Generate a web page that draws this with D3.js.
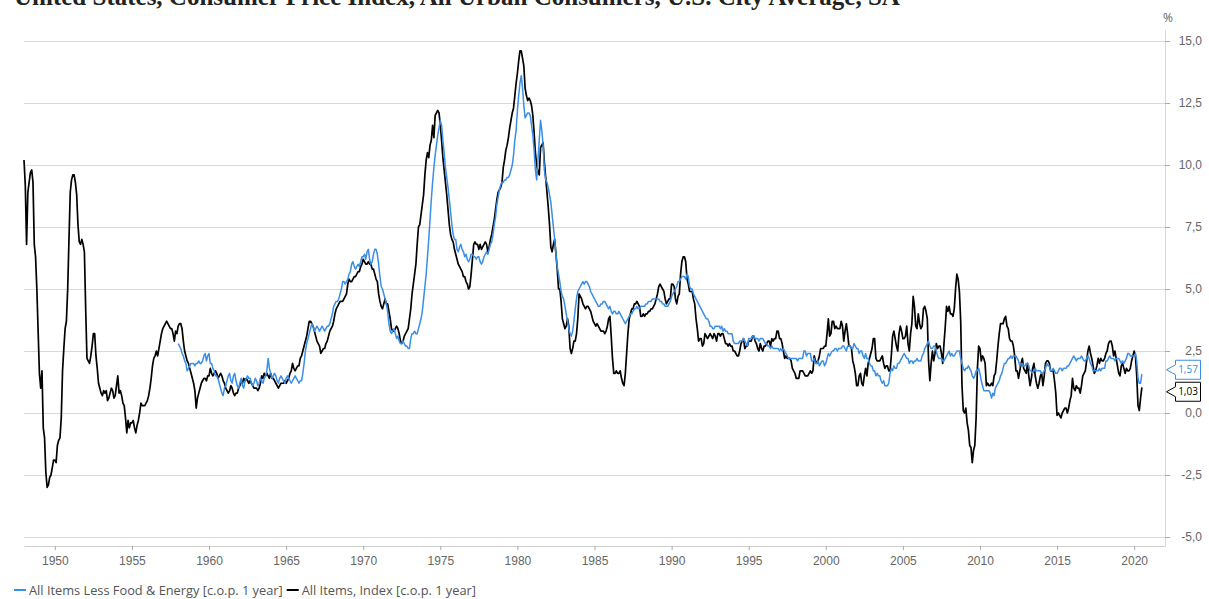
<!DOCTYPE html>
<html>
<head>
<meta charset="utf-8">
<script src="https://d3js.org/d3.v7.min.js"></script>
<style>
  body { margin: 0; background: #fff; }
  svg { display: block; font-family: "Open Sans", sans-serif; }
  .axis text { fill: #666; font-size: 12px; }
  .axis line { stroke: #aaa; }
  .axis path { stroke: #d0d0d0; }
  .grid line { stroke: #d9d9d9; stroke-width: 1; }
  .legend text { fill: #555; font-size: 12.8px; }
</style>
</head>
<body>
<svg id="chart" width="1209" height="599"></svg>
<script>
var title = "United States, Consumer Price Index, All Urban Consumers, U.S. City Average, SA";
var seriesNames = ["All Items Less Food & Energy [c.o.p. 1 year]", "All Items, Index [c.o.p. 1 year]"];
var yearTicks = [1950, 1955, 1960, 1965, 1970, 1975, 1980, 1985, 1990, 1995, 2000, 2005, 2010, 2015, 2020];
var valueTicks = [-5, -2.5, 0, 2.5, 5, 7.5, 10, 12.5, 15];

// monthly, first value = January of the start year
var allItemsStart = 1948;
var allItems = [
  10.2, 9.2, 6.8, 8.9, 9.3, 9.7, 9.8, 9.3, 6.8, 6.3, 5.0, 3.3,
  1.6, 1.0, 1.7, -0.6, -1.0, -2.4, -3.0, -2.9, -2.6, -2.5, -2.2, -1.9,
  -1.9, -2.0, -1.3, -1.1, -1.0, -0.2, 1.7, 2.6, 3.4, 3.7, 5.0, 7.0,
  8.9, 9.4, 9.6, 9.6, 9.3, 8.8, 7.6, 6.9, 6.8, 7.0, 6.8, 6.5,
  4.2, 2.2, 2.1, 2.0, 2.3, 2.7, 3.2, 3.2, 2.3, 1.8, 1.2, 1.0,
  0.8, 0.7, 0.9, 0.8, 0.9, 0.5, 0.6, 0.8, 1.0, 0.9, 0.6, 0.7,
  1.1, 1.5, 0.8, 0.9, 0.7, 0.4, 0.3, -0.2, -0.8, -0.3, -0.6, -0.4,
  -0.4, -0.3, -0.6, -0.8, -0.5, -0.3, 0.0, 0.4, 0.3, 0.3, 0.3, 0.4,
  0.5, 0.7, 1.0, 1.4, 1.9, 2.2, 2.3, 2.5, 2.3, 2.6, 2.9, 3.2,
  3.4, 3.5, 3.6, 3.7, 3.6, 3.5, 3.4, 3.4, 3.2, 2.9, 3.3, 3.2,
  3.5, 3.6, 3.6, 3.4, 2.9, 2.5, 2.3, 2.1, 2.0, 1.8, 1.6, 1.4,
  1.2, 0.9, 0.2, 0.6, 0.8, 1.0, 1.2, 1.3, 1.4, 1.4, 1.3, 1.5,
  1.5, 1.8, 1.6, 1.5, 1.6, 1.7, 1.6, 1.4, 1.5, 1.6, 1.5, 1.3,
  1.2, 1.0, 0.9, 0.8, 0.9, 1.1, 1.0, 0.8, 0.7, 0.8, 0.8, 1.0,
  1.1, 1.3, 1.2, 1.4, 1.3, 1.4, 1.3, 1.2, 1.3, 1.2, 1.1, 1.0,
  1.0, 1.0, 0.9, 1.0, 1.2, 1.5, 1.4, 1.6, 1.5, 1.6, 1.5, 1.4,
  1.6, 1.4, 1.4, 1.3, 1.2, 1.1, 1.0, 1.1, 1.2, 1.2, 1.2, 1.3,
  1.2, 1.3, 1.4, 1.6, 1.7, 2.0, 1.8, 1.7, 1.8, 1.9, 1.9, 2.2,
  2.3, 2.5, 2.7, 2.9, 3.1, 3.4, 3.7, 3.7, 3.6, 3.5, 3.3, 3.1,
  2.9, 2.8, 2.7, 2.4, 2.5, 2.6, 2.6, 2.8, 2.9, 3.1, 3.3, 3.4,
  3.5, 3.7, 4.0, 4.2, 4.3, 4.4, 4.5, 4.5, 4.5, 4.6, 4.7, 4.8,
  5.2, 5.4, 5.3, 5.3, 5.4, 5.5, 5.5, 5.6, 5.7, 5.7, 5.9, 6.0,
  6.2, 6.1, 6.0, 6.0, 6.1, 6.0, 6.0, 5.8, 5.8, 5.6, 5.4, 5.3,
  4.8, 4.5, 4.3, 4.2, 4.4, 4.6, 4.4, 4.4, 4.1, 3.8, 3.4, 3.3,
  3.3, 3.4, 3.5, 3.4, 3.2, 2.9, 2.8, 2.9, 3.1, 3.2, 3.3, 3.4,
  3.8, 4.2, 4.8, 5.2, 5.6, 6.0, 6.8, 7.5, 7.6, 8.0, 8.4, 8.8,
  9.6, 10.2, 10.5, 10.3, 10.8, 11.0, 11.6, 11.1, 12.0, 12.1, 12.2, 12.1,
  11.6, 11.0, 10.3, 9.8, 9.3, 8.8, 8.2, 7.6, 7.2, 7.0, 6.9, 6.6,
  6.4, 6.2, 6.0, 5.9, 5.8, 5.7, 5.5, 5.5, 5.3, 5.2, 5.0, 5.1,
  5.6, 6.2, 6.8, 6.9, 6.8, 6.8, 6.6, 6.8, 6.6, 6.7, 6.8, 6.9,
  6.8, 6.5, 6.7, 7.0, 7.2, 7.5, 7.8, 8.2, 8.6, 8.9, 9.0, 9.1,
  9.3, 9.9, 10.2, 10.6, 10.8, 11.1, 11.5, 11.8, 12.1, 12.3, 12.8, 13.3,
  13.7, 14.2, 14.6, 14.6, 14.3, 14.0, 13.1, 12.8, 12.6, 12.7, 12.6, 12.4,
  12.0, 11.3, 10.5, 10.0, 9.7, 9.6, 10.7, 10.8, 10.9, 10.1, 9.5, 8.9,
  8.3, 7.6, 6.7, 6.5, 6.8, 7.0, 6.4, 5.8, 5.0, 5.0, 4.5, 3.8,
  3.6, 3.4, 3.5, 3.8, 3.5, 2.6, 2.4, 2.6, 2.9, 2.9, 3.2, 3.8,
  4.8, 4.7, 4.6, 4.4, 4.3, 4.2, 4.3, 4.3, 4.2, 4.1, 3.9, 3.7,
  3.6, 3.5, 3.6, 3.5, 3.4, 3.3, 3.3, 3.3, 3.2, 3.3, 3.5, 3.8,
  3.9, 3.1, 2.2, 1.6, 1.6, 1.7, 1.6, 1.6, 1.7, 1.4, 1.2, 1.1,
  1.6, 2.4, 3.2, 3.8, 4.0, 4.2, 4.2, 4.4, 4.4, 4.5, 4.4, 4.3,
  3.9, 3.9, 4.0, 3.9, 4.0, 4.0, 4.1, 4.1, 4.2, 4.2, 4.3, 4.4,
  4.6, 4.8, 5.1, 5.2, 5.1, 5.0, 4.9, 4.6, 4.4, 4.5, 4.6, 4.6,
  5.2, 5.2, 5.1, 4.6, 4.4, 4.7, 4.8, 5.6, 6.1, 6.3, 6.3, 6.1,
  5.4, 5.2, 4.9, 4.9, 4.9, 4.6, 4.4, 3.8, 3.4, 2.9, 3.0, 3.0,
  2.7, 2.8, 3.2, 3.1, 3.0, 3.1, 3.2, 3.1, 3.0, 3.2, 3.1, 2.9,
  3.2, 3.2, 3.1, 3.2, 3.2, 3.0, 2.8, 2.8, 2.7, 2.8, 2.7, 2.7,
  2.5, 2.5, 2.4, 2.3, 2.3, 2.5, 2.8, 2.9, 3.0, 2.6, 2.7, 2.7,
  2.9, 2.9, 2.9, 3.1, 3.1, 2.9, 2.8, 2.6, 2.5, 2.8, 2.6, 2.5,
  2.7, 2.7, 2.8, 2.9, 2.9, 2.7, 3.0, 2.9, 3.0, 3.0, 3.3, 3.3,
  3.0, 3.0, 2.8, 2.5, 2.2, 2.3, 2.2, 2.2, 2.2, 2.1, 1.8, 1.7,
  1.6, 1.4, 1.4, 1.4, 1.7, 1.7, 1.7, 1.6, 1.5, 1.5, 1.5, 1.6,
  1.7, 1.6, 1.7, 2.3, 2.1, 2.0, 2.1, 2.3, 2.6, 2.6, 2.6, 2.7,
  2.7, 3.2, 3.8, 3.1, 3.2, 3.7, 3.7, 3.4, 3.5, 3.4, 3.4, 3.4,
  3.7, 3.5, 2.9, 3.3, 3.6, 3.2, 2.7, 2.7, 2.6, 2.1, 1.9, 1.6,
  1.1, 1.1, 1.5, 1.6, 1.2, 1.1, 1.5, 1.8, 1.5, 2.0, 2.2, 2.4,
  2.6, 3.0, 3.0, 2.2, 2.1, 2.1, 2.1, 2.2, 2.3, 2.0, 1.8, 1.9,
  1.9, 1.7, 1.7, 2.3, 3.1, 3.3, 3.0, 2.7, 2.5, 3.2, 3.5, 3.3,
  3.0, 3.0, 3.1, 3.5, 2.8, 2.5, 3.2, 3.6, 4.7, 4.3, 3.5, 3.4,
  4.0, 3.6, 3.4, 3.5, 4.2, 4.3, 4.1, 3.8, 2.1, 1.3, 2.0, 2.5,
  2.1, 2.4, 2.8, 2.6, 2.7, 2.7, 2.4, 2.0, 2.8, 3.5, 4.3, 4.1,
  4.3, 4.0, 4.0, 3.9, 4.2, 5.0, 5.6, 5.4, 4.9, 3.7, 1.1, 0.1,
  0.0, 0.2, -0.4, -0.7, -1.3, -1.4, -2.0, -1.5, -1.3, -0.2, 1.8, 2.7,
  2.6, 2.1, 2.3, 2.2, 2.0, 1.1, 1.2, 1.1, 1.1, 1.2, 1.1, 1.5,
  1.6, 2.1, 2.7, 3.2, 3.6, 3.6, 3.6, 3.8, 3.9, 3.5, 3.4, 3.0,
  2.9, 2.9, 2.7, 2.3, 1.7, 1.7, 1.4, 1.7, 2.0, 2.2, 1.8, 1.7,
  1.6, 2.0, 1.5, 1.1, 1.4, 1.8, 2.0, 1.5, 1.2, 1.0, 1.2, 1.5,
  1.6, 1.1, 1.5, 2.0, 2.1, 2.1, 2.0, 1.7, 1.7, 1.7, 1.3, 0.8,
  -0.1, 0.0, -0.1, -0.2, 0.0, 0.1, 0.2, 0.2, 0.0, 0.2, 0.5, 0.7,
  1.4, 1.0, 0.9, 1.1, 1.0, 1.0, 0.8, 1.1, 1.5, 1.6, 1.7, 2.1,
  2.5, 2.7, 2.4, 2.2, 1.9, 1.6, 1.7, 1.9, 2.2, 2.0, 2.2, 2.1,
  2.1, 2.2, 2.4, 2.5, 2.8, 2.9, 2.9, 2.7, 2.3, 2.5, 2.2, 1.9,
  1.6, 1.5, 1.9, 2.0, 1.8, 1.6, 1.8, 1.7, 1.7, 1.8, 2.1, 2.3,
  2.5, 2.3, 1.5, 0.3, 0.1, 0.6, 1.03
];

var coreItemsStart = 1958;
var coreItems = [
  2.8, 2.7, 2.6, 2.4, 2.3, 2.1, 2.0, 1.7, 1.8, 1.9, 2.0, 2.0,
  2.0, 1.9, 2.0, 2.0, 2.1, 2.0, 2.0, 2.1, 2.3, 2.4, 2.1, 2.3,
  2.4, 2.0, 2.0, 1.8, 1.7, 1.5, 1.5, 1.4, 1.2, 1.0, 0.8, 0.7,
  1.0, 1.1, 1.3, 1.5, 1.6, 1.3, 1.2, 1.5, 1.6, 1.3, 1.1, 1.0,
  1.2, 1.4, 1.1, 1.0, 1.3, 1.4, 1.5, 1.4, 1.4, 1.2, 1.1, 1.2,
  1.4, 1.3, 1.1, 1.2, 1.4, 1.3, 1.2, 1.4, 1.5, 1.7, 2.2, 1.8,
  1.6, 1.4, 1.5, 1.6, 1.5, 1.3, 1.2, 1.4, 1.5, 1.4, 1.3, 1.2,
  1.4, 1.5, 1.4, 1.3, 1.2, 1.3, 1.4, 1.5, 1.4, 1.3, 1.2, 1.3,
  1.3, 1.6, 2.0, 2.5, 2.8, 3.0, 3.2, 3.4, 3.6, 3.5, 3.3, 3.4,
  3.5, 3.4, 3.3, 3.4, 3.5, 3.4, 3.3, 3.4, 3.5, 3.5, 3.6, 3.8,
  4.0, 4.3, 4.4, 4.5, 4.5, 4.6, 4.8, 5.0, 5.3, 5.3, 5.2, 5.3,
  5.4, 5.6, 5.7, 6.0, 6.1, 5.9, 5.8, 5.9, 6.0, 5.9, 6.1, 6.3,
  6.3, 6.4, 6.2, 6.5, 6.6, 6.2, 6.0, 6.1, 6.4, 6.6, 6.6, 6.4,
  6.0, 5.5, 5.1, 5.0, 4.8, 4.6, 4.4, 4.1, 3.6, 3.3, 3.2, 3.3,
  3.4, 3.2, 3.0, 3.1, 2.9, 2.8, 2.8, 2.9, 2.8, 2.7, 2.7, 2.6,
  2.6, 3.0, 3.2, 3.2, 3.3, 3.2, 3.2, 3.4, 3.6, 3.8, 4.1, 4.6,
  5.1, 5.6, 6.3, 7.0, 7.8, 8.6, 9.3, 9.9, 10.4, 10.8, 11.2, 11.5,
  11.8, 11.6, 11.0, 10.5, 9.9, 9.5, 9.1, 8.6, 8.1, 7.6, 7.2, 7.0,
  7.0, 6.6, 6.5, 6.7, 6.8, 6.6, 6.5, 6.3, 6.4, 6.2, 6.1, 6.2,
  6.4, 6.4, 6.3, 6.3, 6.2, 6.3, 6.3, 6.1, 6.0, 6.1, 6.3, 6.4,
  6.5, 6.4, 6.6, 6.8, 6.9, 7.2, 7.6, 7.9, 8.4, 8.7, 9.0, 9.2,
  9.3, 9.3, 9.4, 9.4, 9.5, 9.5, 9.6, 9.8, 10.0, 10.4, 11.0, 11.4,
  12.2, 12.8, 13.3, 13.6, 13.1, 12.4, 11.9, 12.0, 12.1, 12.1, 12.0, 11.6,
  11.2, 10.6, 9.8, 9.4, 10.2, 11.0, 11.8, 11.4, 10.8, 9.8, 9.4, 9.3,
  9.1, 8.8, 8.5, 8.0, 7.5, 7.0, 6.4, 5.9, 5.6, 5.3, 4.9, 4.7,
  4.6, 4.3, 4.0, 3.7, 3.4, 3.2, 3.1, 3.3, 3.7, 4.2, 4.6, 4.9,
  5.0, 5.1, 5.2, 5.3, 5.2, 5.3, 5.3, 5.2, 5.1, 4.9, 4.8, 4.7,
  4.6, 4.5, 4.4, 4.3, 4.3, 4.4, 4.4, 4.5, 4.5, 4.4, 4.3, 4.2,
  4.3, 4.1, 4.0, 4.1, 4.1, 4.0, 4.0, 4.1, 4.0, 3.9, 3.8, 3.7,
  3.6, 3.7, 3.8, 3.9, 4.0, 4.0, 4.1, 4.2, 4.2, 4.3, 4.2, 4.2,
  4.3, 4.3, 4.3, 4.3, 4.4, 4.4, 4.5, 4.5, 4.5, 4.6, 4.6, 4.6,
  4.6, 4.6, 4.6, 4.5, 4.5, 4.4, 4.4, 4.3, 4.3, 4.3, 4.4, 4.5,
  4.7, 4.8, 4.9, 5.0, 5.1, 5.3, 5.3, 5.4, 5.5, 5.5, 5.5, 5.4,
  5.6, 5.5, 5.1, 5.0, 5.0, 4.8, 4.7, 4.6, 4.5, 4.4, 4.3, 4.2,
  4.1, 4.0, 3.9, 3.8, 3.8, 3.7, 3.5, 3.5, 3.4, 3.4, 3.5, 3.5,
  3.5, 3.5, 3.4, 3.5, 3.3, 3.4, 3.3, 3.3, 3.2, 3.2, 3.2, 3.2,
  2.9, 2.8, 2.8, 2.8, 2.8, 2.9, 2.9, 2.9, 3.0, 2.9, 2.8, 2.7,
  3.0, 3.0, 3.0, 3.1, 3.1, 3.0, 3.0, 3.0, 2.9, 3.0, 3.0, 3.0,
  2.9, 2.8, 2.8, 2.7, 2.7, 2.6, 2.7, 2.6, 2.6, 2.6, 2.6, 2.6,
  2.5, 2.6, 2.5, 2.6, 2.5, 2.4, 2.3, 2.2, 2.2, 2.2, 2.2, 2.2,
  2.2, 2.2, 2.1, 2.2, 2.2, 2.2, 2.2, 2.5, 2.5, 2.3, 2.4, 2.4,
  2.4, 2.1, 2.1, 2.2, 2.0, 2.0, 2.1, 1.9, 2.0, 2.1, 2.1, 1.9,
  2.0, 2.2, 2.4, 2.3, 2.4, 2.5, 2.5, 2.6, 2.6, 2.5, 2.6, 2.6,
  2.6, 2.7, 2.7, 2.6, 2.5, 2.7, 2.7, 2.7, 2.6, 2.6, 2.8, 2.7,
  2.6, 2.6, 2.4, 2.5, 2.5, 2.3, 2.2, 2.4, 2.2, 2.2, 2.0, 1.9,
  1.9, 1.7, 1.7, 1.5, 1.6, 1.5, 1.5, 1.3, 1.2, 1.3, 1.1, 1.1,
  1.1, 1.2, 1.6, 1.8, 1.7, 1.9, 1.8, 1.8, 2.0, 2.0, 2.1, 2.2,
  2.3, 2.4, 2.3, 2.2, 2.2, 2.0, 2.1, 2.1, 2.0, 2.1, 2.1, 2.2,
  2.1, 2.1, 2.1, 2.3, 2.4, 2.6, 2.7, 2.8, 2.9, 2.7, 2.6, 2.6,
  2.7, 2.7, 2.5, 2.3, 2.2, 2.2, 2.2, 2.1, 2.1, 2.2, 2.3, 2.4,
  2.5, 2.3, 2.4, 2.3, 2.3, 2.4, 2.5, 2.5, 2.5, 2.2, 2.0, 1.8,
  1.7, 1.8, 1.8, 1.9, 1.8, 1.7, 1.5, 1.4, 1.5, 1.7, 1.7, 1.8,
  1.6, 1.3, 1.1, 0.9, 0.9, 0.9, 0.9, 0.9, 0.8, 0.6, 0.8, 0.7,
  1.0, 1.1, 1.2, 1.3, 1.5, 1.6, 1.8, 2.0, 2.0, 2.1, 2.2, 2.2,
  2.3, 2.2, 2.3, 2.3, 2.3, 2.2, 2.1, 1.9, 2.0, 2.0, 1.9, 1.9,
  2.0, 2.0, 1.9, 1.7, 1.7, 1.6, 1.7, 1.8, 1.7, 1.7, 1.7, 1.7,
  1.6, 1.6, 1.7, 1.8, 2.0, 1.9, 1.9, 1.7, 1.7, 1.8, 1.7, 1.6,
  1.6, 1.7, 1.8, 1.8, 1.7, 1.8, 1.8, 1.8, 1.9, 1.9, 2.0, 2.1,
  2.2, 2.3, 2.2, 2.1, 2.2, 2.2, 2.2, 2.3, 2.2, 2.1, 2.1, 2.2,
  2.3, 2.2, 2.0, 1.9, 1.7, 1.7, 1.7, 1.7, 1.7, 1.8, 1.7, 1.8,
  1.8, 1.8, 2.1, 2.1, 2.2, 2.3, 2.2, 2.2, 2.2, 2.1, 2.2, 2.2,
  2.2, 2.1, 2.0, 2.1, 2.0, 2.1, 2.2, 2.4, 2.4, 2.3, 2.3, 2.3,
  2.3, 2.4, 2.1, 1.4, 1.2, 1.2, 1.57
];

var coreColor = "#3a8ee6";
var allColor = "#000000";

var plot = {left: 24, right: 1165, top: 30, bottom: 546};

var locale = d3.formatLocale({decimal: ",", thousands: ".", grouping: [3], currency: ["", ""], minus: "-"});
var fmtTick = locale.format(".1f");
var fmtLast = locale.format(".2f");

var svg = d3.select("#chart");

var x = d3.scaleLinear().domain([1948, 2022]).range([plot.left, plot.right]);
var y = d3.scaleLinear().domain([-5, 15]).range([537, 41]);

function toPoints(values, start) {
  return values.map(function(v, i){ return {t: start + i / 12, v: v}; });
}
var allData = toPoints(allItems, allItemsStart);
var coreData = toPoints(coreItems, coreItemsStart);

// title, cut at the top as in the source
svg.append("text")
    .attr("x", 14)
    .attr("y", 5)
    .style("font-family", "'Liberation Serif', serif")
    .style("font-weight", "bold")
    .style("font-size", "25px")
    .style("fill", "#222")
    .text(title);

svg.append("g")
    .attr("class", "grid")
  .selectAll("line")
    .data(valueTicks)
  .enter().append("line")
    .attr("x1", plot.left)
    .attr("x2", plot.right)
    .attr("y1", function(d){ return Math.round(y(d)) + 0.5; })
    .attr("y2", function(d){ return Math.round(y(d)) + 0.5; });

svg.append("line")
    .attr("x1", plot.right + 0.5).attr("x2", plot.right + 0.5)
    .attr("y1", plot.top).attr("y2", plot.bottom)
    .style("stroke", "#d9d9d9");

var yAxis = d3.axisRight(y)
    .tickValues(valueTicks)
    .tickSize(5)
    .tickPadding(6)
    .tickFormat(fmtTick);

var yg = svg.append("g")
    .attr("class", "axis y")
    .attr("transform", "translate(" + plot.right + ",0)")
    .call(yAxis);
yg.select(".domain").remove();
yg.selectAll("text").attr("text-anchor", "end").attr("x", 37);

svg.append("text")
    .attr("x", 1168)
    .attr("y", 22)
    .attr("text-anchor", "middle")
    .style("fill", "#666")
    .style("font-size", "12px")
    .text("%");

var xAxis = d3.axisBottom(x)
    .tickValues(yearTicks)
    .tickSize(4)
    .tickSizeOuter(0)
    .tickPadding(6)
    .tickFormat(d3.format("d"));

svg.append("g")
    .attr("class", "axis x")
    .attr("transform", "translate(0," + plot.bottom + ")")
    .call(xAxis);

var line = d3.line()
    .x(function(d){ return x(d.t); })
    .y(function(d){ return y(d.v); });

svg.append("path")
    .datum(allData)
    .attr("d", line)
    .style("fill", "none")
    .style("stroke", allColor)
    .style("stroke-width", 1.7)
    .style("stroke-linejoin", "round");

svg.append("path")
    .datum(coreData)
    .attr("d", line)
    .style("fill", "none")
    .style("stroke", coreColor)
    .style("stroke-width", 1.5)
    .style("stroke-linejoin", "round");

// last value tags on the right axis
var tags = [
  {v: coreItems[coreItems.length - 1], color: coreColor},
  {v: allItems[allItems.length - 1], color: allColor}
];
tags.forEach(function(d){ d.y = y(d.v); });
tags.sort(function(a, b){ return a.y - b.y; });
var tagH = 19;
if (tags[1].y - tags[0].y < tagH + 3) {
  var mid = (tags[0].y + tags[1].y) / 2;
  tags[0].y = mid - (tagH + 3) / 2;
  tags[1].y = mid + (tagH + 3) / 2;
}

var tag = svg.selectAll(".tag")
    .data(tags)
  .enter().append("g")
    .attr("class", "tag")
    .attr("transform", function(d){ return "translate(" + (plot.right + 1) + "," + d.y + ")"; });

tag.append("path")
    .attr("d", "M0.5,0 L9.5,-5 L9.5,-" + tagH / 2 + " L34.5,-" + tagH / 2 + " L34.5," + tagH / 2 + " L9.5," + tagH / 2 + " L9.5,5 Z")
    .style("fill", "#fff")
    .style("stroke", function(d){ return d.color; })
    .style("stroke-width", 1);

tag.append("text")
    .attr("x", 22)
    .attr("y", 3.5)
    .attr("text-anchor", "middle")
    .style("font-size", "10px")
    .style("fill", function(d){ return d.color; })
    .text(function(d){ return fmtLast(d.v); });

// legend
var legend = svg.append("g").attr("class", "legend");
var lx = 14;
[coreColor, allColor].forEach(function(c, i){
  legend.append("line")
      .attr("x1", lx).attr("x2", lx + 12)
      .attr("y1", 590).attr("y2", 590)
      .style("stroke", c)
      .style("stroke-width", 2);
  var t = legend.append("text")
      .attr("x", lx + 15)
      .attr("y", 594.5)
      .text(seriesNames[i]);
  lx = lx + 15 + t.node().getComputedTextLength() + 4;
});
</script>
</body>
</html>
